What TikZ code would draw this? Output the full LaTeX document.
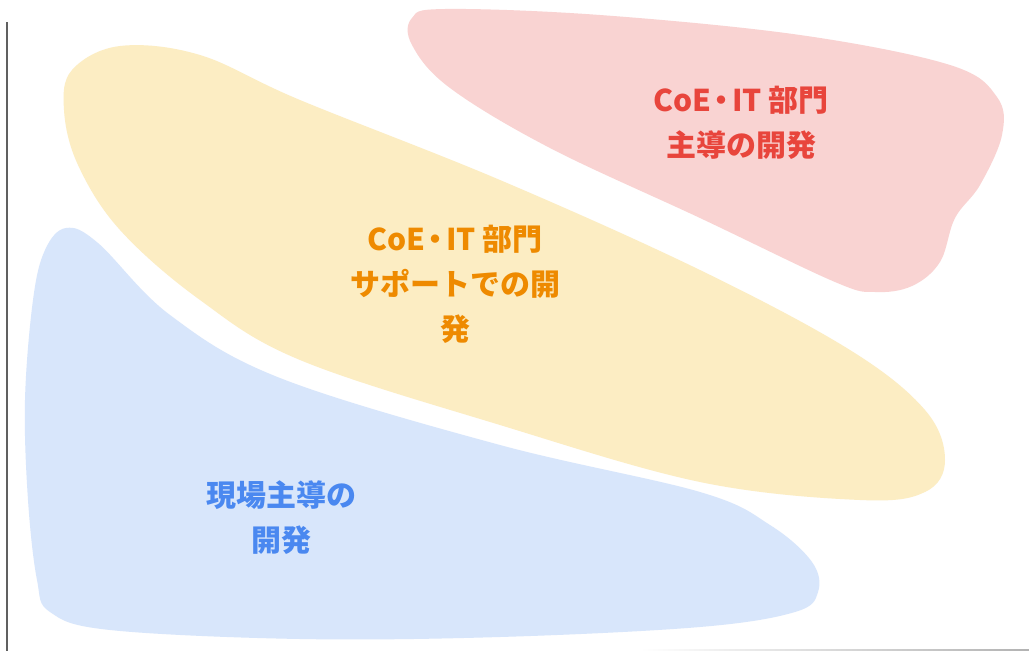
\documentclass[tikz,border=0pt]{standalone}
\usepackage{fontspec}
\newfontfamily\jpfont{Noto Sans CJK JP}
\definecolor{redbg}{HTML}{F9D3D2}
\definecolor{redtx}{HTML}{E8453C}
\definecolor{orbg}{HTML}{FCEDC3}
\definecolor{ortx}{HTML}{EE8A00}
\definecolor{blbg}{HTML}{D8E6FB}
\definecolor{bltx}{HTML}{4A88F0}
\newcommand{\mdot}{\kern-0.15em・\kern-0.15em}
\begin{document}
\begin{tikzpicture}[x=1pt,y=-1pt,
  lbl/.style={font=\jpfont\bfseries\fontsize{30}{45}\selectfont, align=center, inner sep=0pt}]
\useasboundingbox (0,0) rectangle (1029,651);
\fill[white] (0,0) rectangle (1029,651);
% blue region
\fill[blbg] plot[smooth cycle, tension=0.6] coordinates {
 (66,228) (98,243) (170,315) (280,378) (500,445) (700,492) (770,525) (812,562) (818,592)
 (795,612) (700,627) (500,637) (300,639) (110,630) (50,612) (37,580) (28,500) (25,400) (33,300) (45,250)};
% orange region
\fill[orbg] plot[smooth cycle, tension=0.6] coordinates {
 (72,70) (120,46) (200,55) (300,100) (500,180) (700,270) (850,350) (925,410) (945,460)
 (925,492) (860,500) (700,482) (500,425) (300,360) (200,300) (120,230) (78,165) (64,110)};
% red region
\fill[redbg] plot[smooth cycle, tension=0.6] coordinates {
 (412,18) (445,9) (600,15) (800,35) (950,65) (997,97) (1002,135) (980,185) (955,218)
 (940,262) (912,286) (875,292) (835,282) (700,218) (550,148) (450,88) (412,45)};
% axes
\draw[line width=1.6pt, gray!75!black] (7,22) -- (7,651);
\shade[left color=white, right color=gray!60] (640,649) rectangle (1029,651);
% labels
\node[lbl, text=redtx] (lr) at (741,123) {CoE\mdot IT 部門\\主導の開発};
\node[lbl, text=ortx] (lo) at (455,284) {CoE\mdot IT 部門\\サポートでの開\\発};
\node[lbl, text=bltx] (lb) at (281,518) {現場主導の\\開発};
\end{tikzpicture}
\end{document}
